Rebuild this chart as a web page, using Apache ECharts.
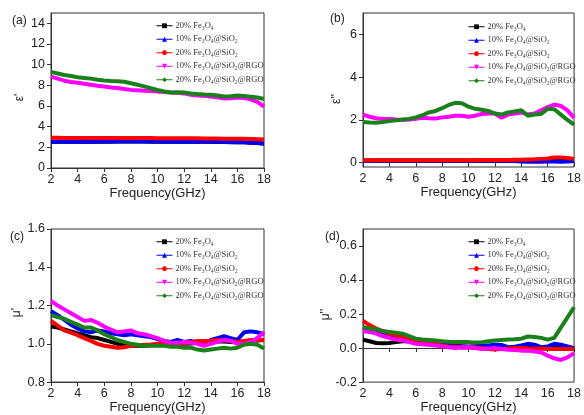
<!DOCTYPE html>
<html>
<head>
<meta charset="utf-8">
<script src="https://cdn.jsdelivr.net/npm/echarts@6/dist/echarts.min.js"></script>
<style>
  html, body { margin: 0; padding: 0; background: #fff; }
  #chart { width: 584px; height: 415px; }
</style>
</head>
<body>
<div id="chart"></div>
<script>
// Frequency grid (GHz), shared by all four panels
const freq = [2,2.5,3,3.5,4,4.5,5,5.5,6,6.5,7,7.5,8,8.5,9,9.5,10,10.5,11,11.5,12,12.5,13,13.5,14,14.5,15,15.5,16,16.5,17,17.5,18];
const freqTicks = [2,4,6,8,10,12,14,16,18];

// Sample names
const sampleNames = ['20% Fe₃O₄', '10% Fe₃O₄@SiO₂', '20% Fe₃O₄@SiO₂', '10% Fe₃O₄@SiO₂@RGO', '20% Fe₃O₄@SiO₂@RGO'];

// (a) real permittivity ε'
const epsRealFe = [2.55,2.55,2.54,2.54,2.54,2.54,2.55,2.55,2.55,2.55,2.56,2.56,2.56,2.56,2.56,2.55,2.55,2.55,2.55,2.54,2.54,2.54,2.54,2.53,2.53,2.52,2.52,2.5,2.5,2.48,2.45,2.42,2.38];
const epsReal10Si = [2.55,2.55,2.54,2.54,2.55,2.55,2.55,2.56,2.56,2.57,2.57,2.57,2.57,2.57,2.57,2.56,2.56,2.55,2.55,2.55,2.54,2.54,2.54,2.54,2.53,2.53,2.52,2.51,2.5,2.48,2.45,2.41,2.35];
const epsReal20Si = [2.92,2.92,2.91,2.91,2.9,2.9,2.9,2.9,2.9,2.9,2.91,2.91,2.91,2.9,2.9,2.9,2.89,2.89,2.88,2.88,2.88,2.87,2.87,2.86,2.86,2.85,2.84,2.84,2.83,2.82,2.8,2.78,2.75];
const epsReal10RGO = [8.85,8.65,8.45,8.32,8.25,8.15,8.05,7.95,7.88,7.8,7.75,7.65,7.56,7.52,7.48,7.44,7.4,7.35,7.3,7.27,7.22,7.08,7.02,6.98,6.92,6.85,6.72,6.75,6.82,6.78,6.65,6.4,5.95];
const epsReal20RGO = [9.3,9.15,9.0,8.9,8.78,8.72,8.65,8.55,8.47,8.42,8.4,8.35,8.2,8.05,7.9,7.72,7.55,7.4,7.3,7.32,7.3,7.2,7.15,7.12,7.1,7.02,6.92,6.95,7.02,6.98,6.9,6.82,6.68];
const epsRealTicks = [0,2,4,6,8,10,12,14];

// (b) imaginary permittivity ε''
const epsImagFe = [0.1,0.1,0.1,0.1,0.1,0.1,0.1,0.1,0.1,0.1,0.1,0.1,0.1,0.1,0.1,0.1,0.1,0.1,0.1,0.1,0.1,0.1,0.1,0.1,0.09,0.08,0.08,0.08,0.08,0.08,0.08,0.08,0.09];
const epsImag10Si = [0.08,0.08,0.09,0.09,0.09,0.09,0.09,0.09,0.09,0.09,0.09,0.09,0.09,0.09,0.09,0.09,0.08,0.08,0.09,0.09,0.09,0.08,0.08,0.08,0.06,0.04,0.05,0.05,0.06,0.06,0.05,0.06,0.08];
const epsImag20Si = [0.12,0.12,0.12,0.12,0.12,0.12,0.12,0.12,0.12,0.12,0.12,0.12,0.12,0.12,0.12,0.12,0.12,0.12,0.13,0.13,0.13,0.13,0.13,0.14,0.14,0.15,0.16,0.18,0.2,0.24,0.25,0.22,0.18];
const epsImag10RGO = [2.25,2.15,2.08,2.05,2.05,2.02,2.0,2.02,2.05,2.1,2.08,2.07,2.12,2.15,2.2,2.2,2.15,2.2,2.28,2.3,2.3,2.1,2.25,2.3,2.35,2.25,2.3,2.45,2.6,2.72,2.65,2.45,2.1];
const epsImag20RGO = [1.9,1.88,1.87,1.9,1.95,1.98,2.02,2.05,2.12,2.22,2.35,2.42,2.55,2.7,2.8,2.78,2.62,2.52,2.48,2.42,2.3,2.25,2.35,2.4,2.45,2.2,2.25,2.28,2.52,2.5,2.25,2.0,1.78];
const epsImagTicks = [0,2,4,6];

// (c) real permeability μ'
const muRealFe = [1.09,1.085,1.075,1.065,1.055,1.045,1.035,1.03,1.02,1.01,1.0,0.992,0.99,0.99,0.99,0.992,0.995,0.998,1.0,1.0,1.0,1.002,1.005,1.005,1.01,1.012,1.012,1.01,1.01,1.012,1.015,1.018,1.02];
const muReal10Si = [1.17,1.15,1.125,1.1,1.08,1.065,1.06,1.07,1.065,1.055,1.05,1.045,1.05,1.045,1.04,1.035,1.025,1.015,1.01,1.02,1.01,1.015,1.005,0.995,1.02,1.03,1.04,1.03,1.02,1.06,1.065,1.06,1.05];
const muReal20Si = [1.12,1.095,1.07,1.058,1.045,1.03,1.015,1.0,0.99,0.985,0.98,0.982,0.99,0.993,0.995,0.997,1.0,1.0,1.0,1.0,1.003,1.01,1.015,1.015,1.015,1.02,1.02,1.015,1.01,1.015,1.02,1.02,1.02];
const muReal10RGO = [1.225,1.2,1.18,1.16,1.14,1.12,1.125,1.11,1.09,1.075,1.06,1.065,1.07,1.055,1.05,1.04,1.03,1.015,1.005,1.005,1.01,1.005,1.0,0.99,1.0,1.01,1.02,1.015,1.0,1.0,1.01,1.03,1.06];
const muReal20RGO = [1.15,1.14,1.13,1.115,1.1,1.085,1.085,1.07,1.05,1.035,1.02,1.01,1.0,0.995,0.99,0.99,0.99,0.99,0.985,0.985,0.98,0.98,0.97,0.965,0.97,0.975,0.98,0.975,0.98,0.995,1.0,0.995,0.975];
const muRealTicks = [0.8,1.0,1.2,1.4,1.6];

// (d) imaginary permeability μ''
const muImagFe = [0.05,0.04,0.03,0.028,0.03,0.035,0.04,0.04,0.035,0.03,0.025,0.02,0.015,0.01,0.008,0.005,0.005,0.003,0.0,0.0,0.0,0.0,0.0,0.0,0.0,0.0,0.0,0.0,0.0,0.0,0.0,0.0,-0.005];
const muImag10Si = [0.12,0.11,0.1,0.09,0.08,0.07,0.062,0.055,0.045,0.038,0.03,0.025,0.02,0.018,0.015,0.012,0.01,0.012,0.015,0.015,0.02,0.018,0.005,0.008,0.015,0.025,0.02,0.005,0.01,0.025,0.02,0.01,0.0];
const muImag20Si = [0.16,0.135,0.115,0.1,0.085,0.075,0.065,0.055,0.045,0.035,0.03,0.022,0.015,0.01,0.008,0.005,0.005,0.003,0.0,-0.005,-0.008,-0.005,-0.003,0.0,0.0,-0.003,-0.005,-0.003,-0.005,-0.005,-0.005,-0.005,-0.005];
const muImag10RGO = [0.1,0.095,0.085,0.07,0.06,0.05,0.045,0.035,0.025,0.022,0.02,0.015,0.01,0.005,0.0,0.003,0.005,0.0,-0.005,-0.003,0.0,-0.005,-0.01,-0.012,-0.015,-0.015,-0.02,-0.025,-0.045,-0.06,-0.07,-0.055,-0.03];
const muImag20RGO = [0.125,0.115,0.11,0.1,0.095,0.09,0.085,0.07,0.055,0.05,0.048,0.045,0.04,0.037,0.035,0.035,0.035,0.033,0.035,0.04,0.045,0.048,0.05,0.052,0.055,0.068,0.065,0.06,0.05,0.06,0.12,0.18,0.24];
const muImagTicks = [-0.2,0.0,0.2,0.4,0.6];

const colors = ['#000000', '#0000f0', '#ff0000', '#ff00ff', '#1a801a'];
const symbols = ['rect', 'triangle', 'circle', 'path://M0,0 L10,0 L5,10 Z', 'diamond'];

const panels = [
  { values: [epsRealFe, epsReal10Si, epsReal20Si, epsReal10RGO, epsReal20RGO], min: 0, max: 15, ticks: epsRealTicks, digits: 0, name: "ε'",
    grid: { left: 51, right: 320, top: 13, bottom: 247 }, legend: { left: 151, top: 16 }, nameGap: 25, namePad: 14 },
  { values: [epsImagFe, epsImag10Si, epsImag20Si, epsImag10RGO, epsImag20RGO], min: -0.2, max: 7, ticks: epsImagTicks, digits: 0, name: "ε''",
    grid: { left: 363, right: 7, top: 13, bottom: 248 }, legend: { left: 463, top: 17 }, nameGap: 20, namePad: 18 },
  { values: [muRealFe, muReal10Si, muReal20Si, muReal10RGO, muReal20RGO], min: 0.8, max: 1.6, ticks: muRealTicks, digits: 1, name: "μ'",
    grid: { left: 51, right: 320, top: 229, bottom: 32 }, legend: { left: 151, top: 232 }, nameGap: 28, namePad: 14 },
  { values: [muImagFe, muImag10Si, muImag20Si, muImag10RGO, muImag20RGO], min: -0.2, max: 0.7, ticks: muImagTicks, digits: 1, name: "μ''",
    grid: { left: 363, right: 7, top: 229, bottom: 31 }, legend: { left: 463, top: 232 }, nameGap: 29, namePad: 18 }
];

const axisColor = '#333';
const textColor = '#222';
const sansFont = 'Liberation Sans, Arial, sans-serif';

const grids = [], xAxes = [], yAxes = [], legends = [], series = [];
panels.forEach((p, k) => {
  grids.push(Object.assign({ show: true, borderColor: axisColor, borderWidth: 1, backgroundColor: 'transparent' }, p.grid));
  xAxes.push({
    type: 'value', gridIndex: k, min: 2, max: 18, interval: 2,
    name: 'Frequency(GHz)', nameLocation: 'middle', nameGap: 18,
    nameTextStyle: { fontFamily: sansFont, fontSize: 13, color: textColor },
    axisLine: { lineStyle: { color: axisColor, width: 1 } },
    axisTick: { inside: false, length: 4, lineStyle: { color: axisColor } },
    axisLabel: { margin: 5, fontFamily: sansFont, fontSize: 12.5, color: textColor },
    splitLine: { show: false }
  });
  yAxes.push({
    type: 'value', gridIndex: k, min: p.min, max: p.max,
    name: p.name, nameLocation: 'middle', nameRotate: 90, nameGap: p.nameGap,
    nameTextStyle: { fontFamily: sansFont, fontSize: 12, color: textColor, padding: [0, p.namePad, 0, 0] },
    axisLine: { show: true, lineStyle: { color: axisColor, width: 1 } },
    axisTick: { show: true, inside: false, length: 4, customValues: p.ticks, lineStyle: { color: axisColor } },
    axisLabel: { margin: 6, fontFamily: sansFont, fontSize: 12.5, color: textColor, customValues: p.ticks,
      formatter: v => Number(v).toFixed(p.digits) },
    splitLine: { show: false }
  });
  legends.push({
    orient: 'vertical', left: p.legend.left, top: p.legend.top,
    data: sampleNames, itemWidth: 16, itemHeight: 6, itemGap: 4, selectedMode: false,
    lineStyle: { width: 1 },
    textStyle: { fontFamily: 'Liberation Serif, Times New Roman, serif', fontSize: 8.5, color: '#333', padding: [0, 0, 0, -2], lineHeight: 9.5 }
  });
  p.values.forEach((vals, s) => {
    series.push({
      type: 'line', name: sampleNames[s], xAxisIndex: k, yAxisIndex: k,
      data: freq.map((f, i) => [f, vals[i]]),
      symbol: symbols[s], symbolSize: 5, showSymbol: false, smooth: false,
      color: colors[s], itemStyle: { color: colors[s] },
      lineStyle: { color: colors[s], width: 4 },
      animation: false, silent: true
    });
  });
});

const panelTags = [['(a)', 12, 22], ['(b)', 330, 20], ['(c)', 10, 238], ['(d)', 325, 238]];

const chart = echarts.init(document.getElementById('chart'), null, { renderer: 'canvas' });
chart.setOption({
  backgroundColor: '#fff',
  animation: false,
  grid: grids, xAxis: xAxes, yAxis: yAxes, legend: legends, series: series,
  graphic: panelTags.map(t => ({
    type: 'text', left: t[1], top: t[2] - 7,
    style: { text: t[0], font: '12px ' + sansFont, fill: textColor }
  }))
});
</script>
</body>
</html>
